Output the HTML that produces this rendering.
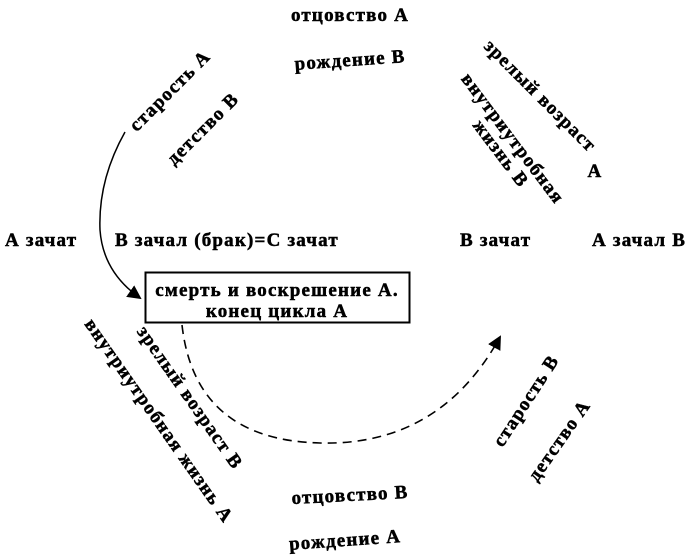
<!DOCTYPE html>
<html><head><meta charset="utf-8"><style>
html,body{margin:0;padding:0;background:#fff;}
svg{display:block;}
text{font-family:"Liberation Serif","DejaVu Serif",serif;font-weight:bold;font-size:19px;letter-spacing:1.2px;fill:#000;stroke:#000;stroke-width:0.5px;}
</style></head><body>
<svg width="698" height="556" viewBox="0 0 698 556" xmlns="http://www.w3.org/2000/svg">
<defs>
<marker id="ah2" markerWidth="14" markerHeight="14" refX="12" refY="7" orient="auto" markerUnits="userSpaceOnUse" viewBox="0 0 14 14">
<path d="M0,0 L14,7 L0,14 Z" fill="#000"/>
</marker>
</defs>
<text x="350" y="21" text-anchor="middle">отцовство А</text>
<text x="350" y="66" text-anchor="middle" transform="rotate(-4 350 60)">рождение В</text>
<text x="0" y="0" text-anchor="middle" transform="translate(174,95) rotate(-45)">старость А</text>
<text x="0" y="0" text-anchor="middle" transform="translate(207,133) rotate(-45)">детство В</text>
<text x="0" y="0" text-anchor="middle" transform="translate(536,100) rotate(45)">зрелый возраст</text>
<text x="595" y="177" text-anchor="middle">А</text>
<text x="0" y="0" text-anchor="middle" transform="translate(508,142) rotate(53)">внутриутробная</text>
<text x="0" y="0" text-anchor="middle" transform="translate(496,157) rotate(53)">жизнь В</text>
<text x="5" y="246">А зачат</text>
<text x="115" y="246">В зачал (брак)=С зачат</text>
<text x="460" y="246">В зачат</text>
<text x="592" y="246">А зачал В</text>
<rect x="145.5" y="272.5" width="264" height="50" fill="#fff" stroke="#000" stroke-width="2"/>
<text x="277" y="296" text-anchor="middle">смерть и воскрешение А.</text>
<text x="277" y="317" text-anchor="middle">конец цикла А</text>
<path d="M125,132 Q98,180 100,230 Q103,272 140,298" fill="none" stroke="#000" stroke-width="1.5" marker-end="url(#ah2)"/>
<path d="M182,325 Q195,440 320,443 Q440,446 500,337" fill="none" stroke="#000" stroke-width="1.6" stroke-dasharray="9,6" marker-end="url(#ah2)"/>
<text x="0" y="0" text-anchor="middle" transform="translate(185,401) rotate(55)">зрелый возраст В</text>
<text x="0" y="0" text-anchor="middle" transform="translate(154,424) rotate(55)">внутриутробная жизнь А</text>
<text x="350" y="501" text-anchor="middle" transform="rotate(-3 350 495)">отцовство В</text>
<text x="345" y="546" text-anchor="middle" transform="rotate(-4 345 540)">рождение А</text>
<text x="0" y="0" text-anchor="middle" transform="translate(531,404) rotate(-57)">старость В</text>
<text x="0" y="0" text-anchor="middle" transform="translate(564,444) rotate(-55)">детство А</text>
</svg>
</body></html>
